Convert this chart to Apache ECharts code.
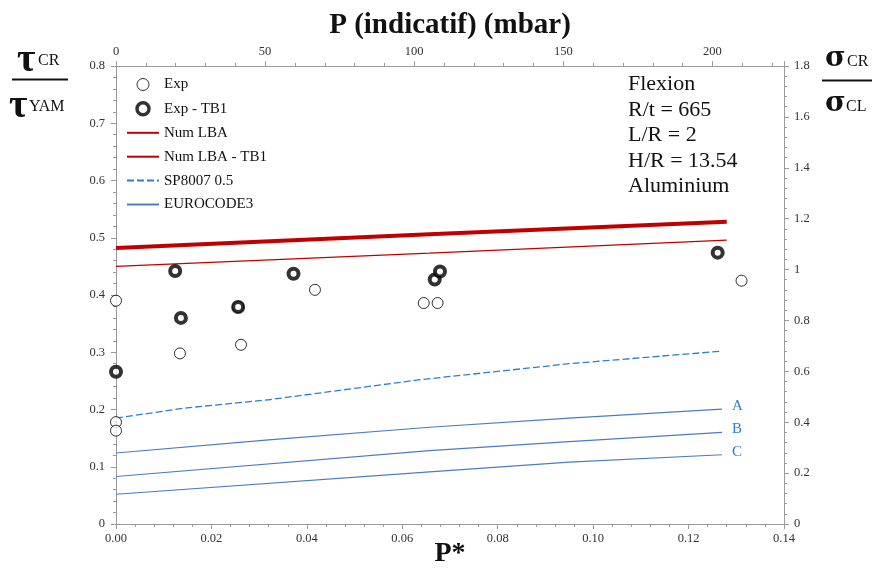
<!DOCTYPE html>
<html><head><meta charset="utf-8">
<script src="https://cdn.jsdelivr.net/npm/echarts@6/dist/echarts.min.js"></script>
<style>html,body{margin:0;padding:0;background:#fff}#c{width:876px;height:568px}</style>
</head><body><div id="c"></div>
<script>
// ---- data ----
const expX = [0, 0, 0, 0.0134, 0.0262, 0.0256, 0.0417, 0.0645, 0.0674, 0.1311];
const expY = [0.390, 0.178, 0.163, 0.298, 0.313, 0.379, 0.409, 0.386, 0.386, 0.425];
const tb1X = [0, 0.0124, 0.0136, 0.0256, 0.0372, 0.0668, 0.0679, 0.1261];
const tb1Y = [0.266, 0.442, 0.360, 0.379, 0.437, 0.427, 0.441, 0.474];
const lbaX = [0, 0.0657, 0.128];
const lbaY = [0.450, 0.473, 0.496];
const lbaTb1Y = [0.482, 0.506, 0.528];
const spX = [0, 0.0149, 0.032, 0.0637, 0.095, 0.127];
const spY = [0.185, 0.203, 0.217, 0.252, 0.280, 0.302];
const ecAX = [0, 0.032, 0.0657, 0.095, 0.127];
const ecAY = [0.124, 0.147, 0.169, 0.185, 0.2005];
const ecBCX = [0, 0.0657, 0.095, 0.127];
const ecBY = [0.083, 0.128, 0.144, 0.160];
const ecCY = [0.052, 0.091, 0.108, 0.121];
const ecLabels = ['A', 'B', 'C'];
const annotation = ['Flexion', 'R/t = 665', 'L/R = 2', 'H/R = 13.54', 'Aluminium'];

const zip = (xs, ys) => xs.map((x, i) => [x, ys[i]]);
const SERIF = '"Liberation Serif", "Times New Roman", serif';
const GREEK = '"DejaVu Serif", "Liberation Serif", serif';
const RED = '#c00000', BLUE = '#2a7fd0', EC = '#4a7cc4';
const axisGray = '#9a9a9a';

const chart = echarts.init(document.getElementById('c'), null, {renderer: 'canvas'});

const baseAxis = {
  axisLine: {show: true, onZero: false, lineStyle: {color: axisGray, width: 1}},
  axisTick: {show: true, length: 5, lineStyle: {color: axisGray}},
  minorTick: {show: true, splitNumber: 5, length: 3, lineStyle: {color: axisGray}},
  splitLine: {show: false},
  axisLabel: {fontFamily: SERIF, fontSize: 12.5, color: '#333'}
};

function ecSeries(xs, ys, label) {
  return {
    name: 'EUROCODE3', type: 'line', symbol: 'none', smooth: false,
    xAxisIndex: 0, yAxisIndex: 0,
    lineStyle: {color: EC, width: 1.2}, itemStyle: {color: EC},
    data: zip(xs, ys),
    endLabel: {show: true, formatter: label, color: BLUE, fontFamily: SERIF, fontSize: 15, distance: 10, offset: [0, -3]},
    z: 3
  };
}
const hideSym = {opacity: 0};

const option = {
  animation: false,
  backgroundColor: '#fff',
  grid: {left: 116, right: 92, top: 66, bottom: 44, containLabel: false, outerBoundsMode: 'none'},
  legend: {
    orient: 'vertical', left: 126, top: 77, padding: 0, itemWidth: 32, itemHeight: 12, itemGap: 8.9,
    textStyle: {fontFamily: SERIF, fontSize: 15, color: '#111'},
    data: [
      {name: 'Exp', itemStyle: {borderWidth: 1}},
      {name: 'Exp - TB1', itemStyle: {borderWidth: 3.5}},
      {name: 'Num LBA', itemStyle: hideSym},
      {name: 'Num LBA - TB1', itemStyle: hideSym},
      {name: 'SP8007 0.5', itemStyle: hideSym},
      {name: 'EUROCODE3', itemStyle: hideSym}
    ]
  },
  xAxis: [
    Object.assign({}, baseAxis, {
      type: 'value', position: 'bottom', min: 0, max: 0.14, interval: 0.02,
      name: 'P*', nameLocation: 'middle', nameGap: 16, nameMoveOverlap: false,
      nameTextStyle: {fontFamily: SERIF, fontSize: 28, fontWeight: 'bold', color: '#111'},
      axisLabel: Object.assign({}, baseAxis.axisLabel, {margin: 8, formatter: v => v.toFixed(2)})
    }),
    Object.assign({}, baseAxis, {
      type: 'value', position: 'top', min: 0, max: 224, interval: 50,
      name: 'P (indicatif) (mbar)', nameLocation: 'middle', nameGap: 26,
      nameTextStyle: {fontFamily: SERIF, fontSize: 29, fontWeight: 'bold', color: '#111'},
      axisLabel: Object.assign({}, baseAxis.axisLabel, {margin: 8, showMaxLabel: false})
    })
  ],
  yAxis: [
    Object.assign({}, baseAxis, {
      type: 'value', position: 'left', min: 0, max: 0.8, interval: 0.1,
      axisLabel: Object.assign({}, baseAxis.axisLabel, {margin: 11})
    }),
    Object.assign({}, baseAxis, {
      type: 'value', position: 'right', min: 0, max: 1.8, interval: 0.2,
      axisLabel: Object.assign({}, baseAxis.axisLabel, {margin: 10})
    })
  ],
  series: [
    {name: 'Num LBA', type: 'line', symbol: 'none', data: zip(lbaX, lbaY),
     lineStyle: {color: RED, width: 1.2}, itemStyle: {color: RED}, z: 3},
    {name: 'Num LBA - TB1', type: 'line', symbol: 'none', data: zip(lbaX, lbaTb1Y),
     lineStyle: {color: RED, width: 4}, itemStyle: {color: RED}, z: 3},
    {name: 'SP8007 0.5', type: 'line', symbol: 'none', data: zip(spX, spY),
     lineStyle: {color: BLUE, width: 1.3, type: [7, 3]}, itemStyle: {color: BLUE}, z: 3},
    ecSeries(ecAX, ecAY, ecLabels[0]),
    ecSeries(ecBCX, ecBY, ecLabels[1]),
    ecSeries(ecBCX, ecCY, ecLabels[2]),
    {name: 'Exp', type: 'scatter', symbol: 'circle', symbolSize: 11, clip: false,
     itemStyle: {color: '#fff', borderColor: '#000', borderWidth: 1}, data: zip(expX, expY), z: 4},
    {name: 'Exp - TB1', type: 'scatter', symbol: 'circle', symbolSize: 10, clip: false,
     itemStyle: {color: '#fff', borderColor: '#000', borderWidth: 4}, data: zip(tb1X, tb1Y), z: 5}
  ],
  graphic: [
    // annotation block
    {type: 'text', left: 628, top: 71.5, z: 10,
     style: {text: annotation.join('\n'), font: '22px ' + SERIF, lineHeight: 25.5, fill: '#111'}},
    // left fraction tau_CR / tau_YAM
    {type: 'text', x: 17, y: 61, z: 10, style: {text: 'τ', font: 'bold 40px ' + SERIF, fill: '#111', verticalAlign: 'middle'}},
    {type: 'text', x: 38, y: 60.6, z: 10, style: {text: 'CR', font: '16px ' + SERIF, fill: '#111', verticalAlign: 'middle'}},
    {type: 'line', z: 10, shape: {x1: 12, y1: 79.5, x2: 68, y2: 79.5}, style: {stroke: '#111', lineWidth: 2}},
    {type: 'text', x: 9, y: 107, z: 10, style: {text: 'τ', font: 'bold 40px ' + SERIF, fill: '#111', verticalAlign: 'middle'}},
    {type: 'text', x: 29, y: 106.6, z: 10, style: {text: 'YAM', font: '16px ' + SERIF, fill: '#111', verticalAlign: 'middle'}},
    // right fraction sigma_CR / sigma_CL
    {type: 'text', x: 825, y: 59, z: 10, style: {text: 'σ', font: 'bold 28px ' + GREEK, fill: '#111', verticalAlign: 'middle'}},
    {type: 'text', x: 847, y: 62, z: 10, style: {text: 'CR', font: '16px ' + SERIF, fill: '#111', verticalAlign: 'middle'}},
    {type: 'line', z: 10, shape: {x1: 822, y1: 80.5, x2: 872, y2: 80.5}, style: {stroke: '#111', lineWidth: 2}},
    {type: 'text', x: 825, y: 104, z: 10, style: {text: 'σ', font: 'bold 28px ' + GREEK, fill: '#111', verticalAlign: 'middle'}},
    {type: 'text', x: 846, y: 107, z: 10, style: {text: 'CL', font: '16px ' + SERIF, fill: '#111', verticalAlign: 'middle'}}
  ]
};
chart.setOption(option);
</script></body></html>
